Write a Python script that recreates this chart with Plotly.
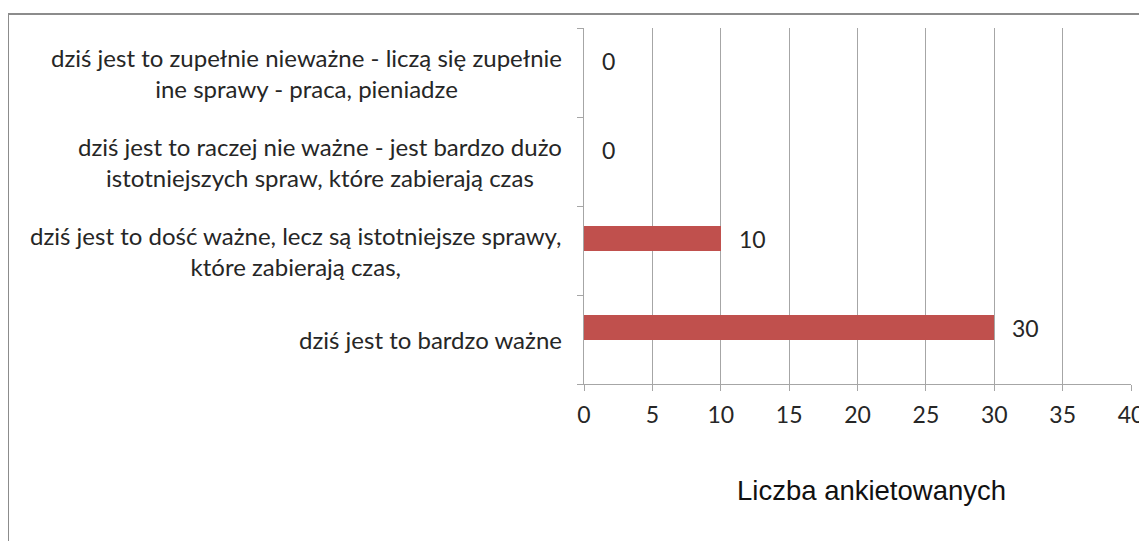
import plotly.graph_objects as go

categories = [
    "dziś jest to bardzo ważne",
    "dziś jest to dość ważne, lecz są istotniejsze sprawy,<br>które zabierają czas,",
    "dziś jest to raczej nie ważne - jest bardzo dużo<br>istotniejszych spraw, które zabierają czas",
    "dziś jest to zupełnie nieważne - liczą się zupełnie<br>ine sprawy - praca, pieniadze",
]
values = [30, 10, 0, 0]
x_ticks = [0, 5, 10, 15, 20, 25, 30, 35, 40]
x_title = "Liczba ankietowanych"

BAR = "#C0504D"
GRID = "#A6A6A6"
TXT = "#262626"
LABEL_FONT = "Lato"

fig = go.Figure()
fig.add_trace(go.Bar(
    x=values, y=categories, orientation="h",
    marker=dict(color=BAR, line=dict(width=0)),
    width=0.27, offset=0, showlegend=False, hoverinfo="x+y",
))

annotations = []
for c, v in zip(categories, values):
    annotations.append(dict(
        x=v, y=c, xref="x", yref="y", text=str(v), showarrow=False,
        xanchor="left", yanchor="middle", xshift=16, yshift=12,
        font=dict(family=LABEL_FONT, size=23, color=TXT),
    ))
    annotations.append(dict(
        x=0, y=c, xref="paper", yref="y", text=c, showarrow=False,
        xanchor="right", yanchor="middle", xshift=-20, align="center",
        font=dict(family=LABEL_FONT, size=24, color=TXT),
    ))
# axis title
annotations.append(dict(
    x=0.5, y=0, xref="paper", yref="paper", text=x_title, showarrow=False,
    xanchor="center", yanchor="middle", xshift=14, yshift=-106,
    font=dict(family="Liberation Sans", size=27.5, color="#111111"),
))

fig.update_layout(
    width=1139, height=533,
    margin=dict(l=576, r=16, t=20, b=157),
    paper_bgcolor="white", plot_bgcolor="white",
    bargap=0,
    annotations=annotations,
    shapes=[dict(type="rect", xref="paper", yref="paper",
                 x0=-1.053, x1=1.2, y0=-1.0, y1=1.039,
                 line=dict(color="#8C8C8C", width=2), layer="below")],
)
fig.update_xaxes(
    automargin=False,
    range=[0, 40], tickvals=x_ticks, showgrid=True, gridcolor=GRID, gridwidth=1,
    showline=True, linecolor=GRID, linewidth=1, ticks="outside", ticklen=6,
    tickcolor=GRID, zeroline=False, ticklabelstandoff=4,
    tickfont=dict(family=LABEL_FONT, size=23, color=TXT),
)
fig.update_yaxes(
    automargin=False,
    categoryorder="array", categoryarray=categories, range=[-0.5, 3.5],
    showticklabels=False, showgrid=False, showline=True, linecolor=GRID, linewidth=1,
    ticks="outside", ticklen=6, tickcolor=GRID, tickson="boundaries", zeroline=False,
)

fig.write_html("out.html")
